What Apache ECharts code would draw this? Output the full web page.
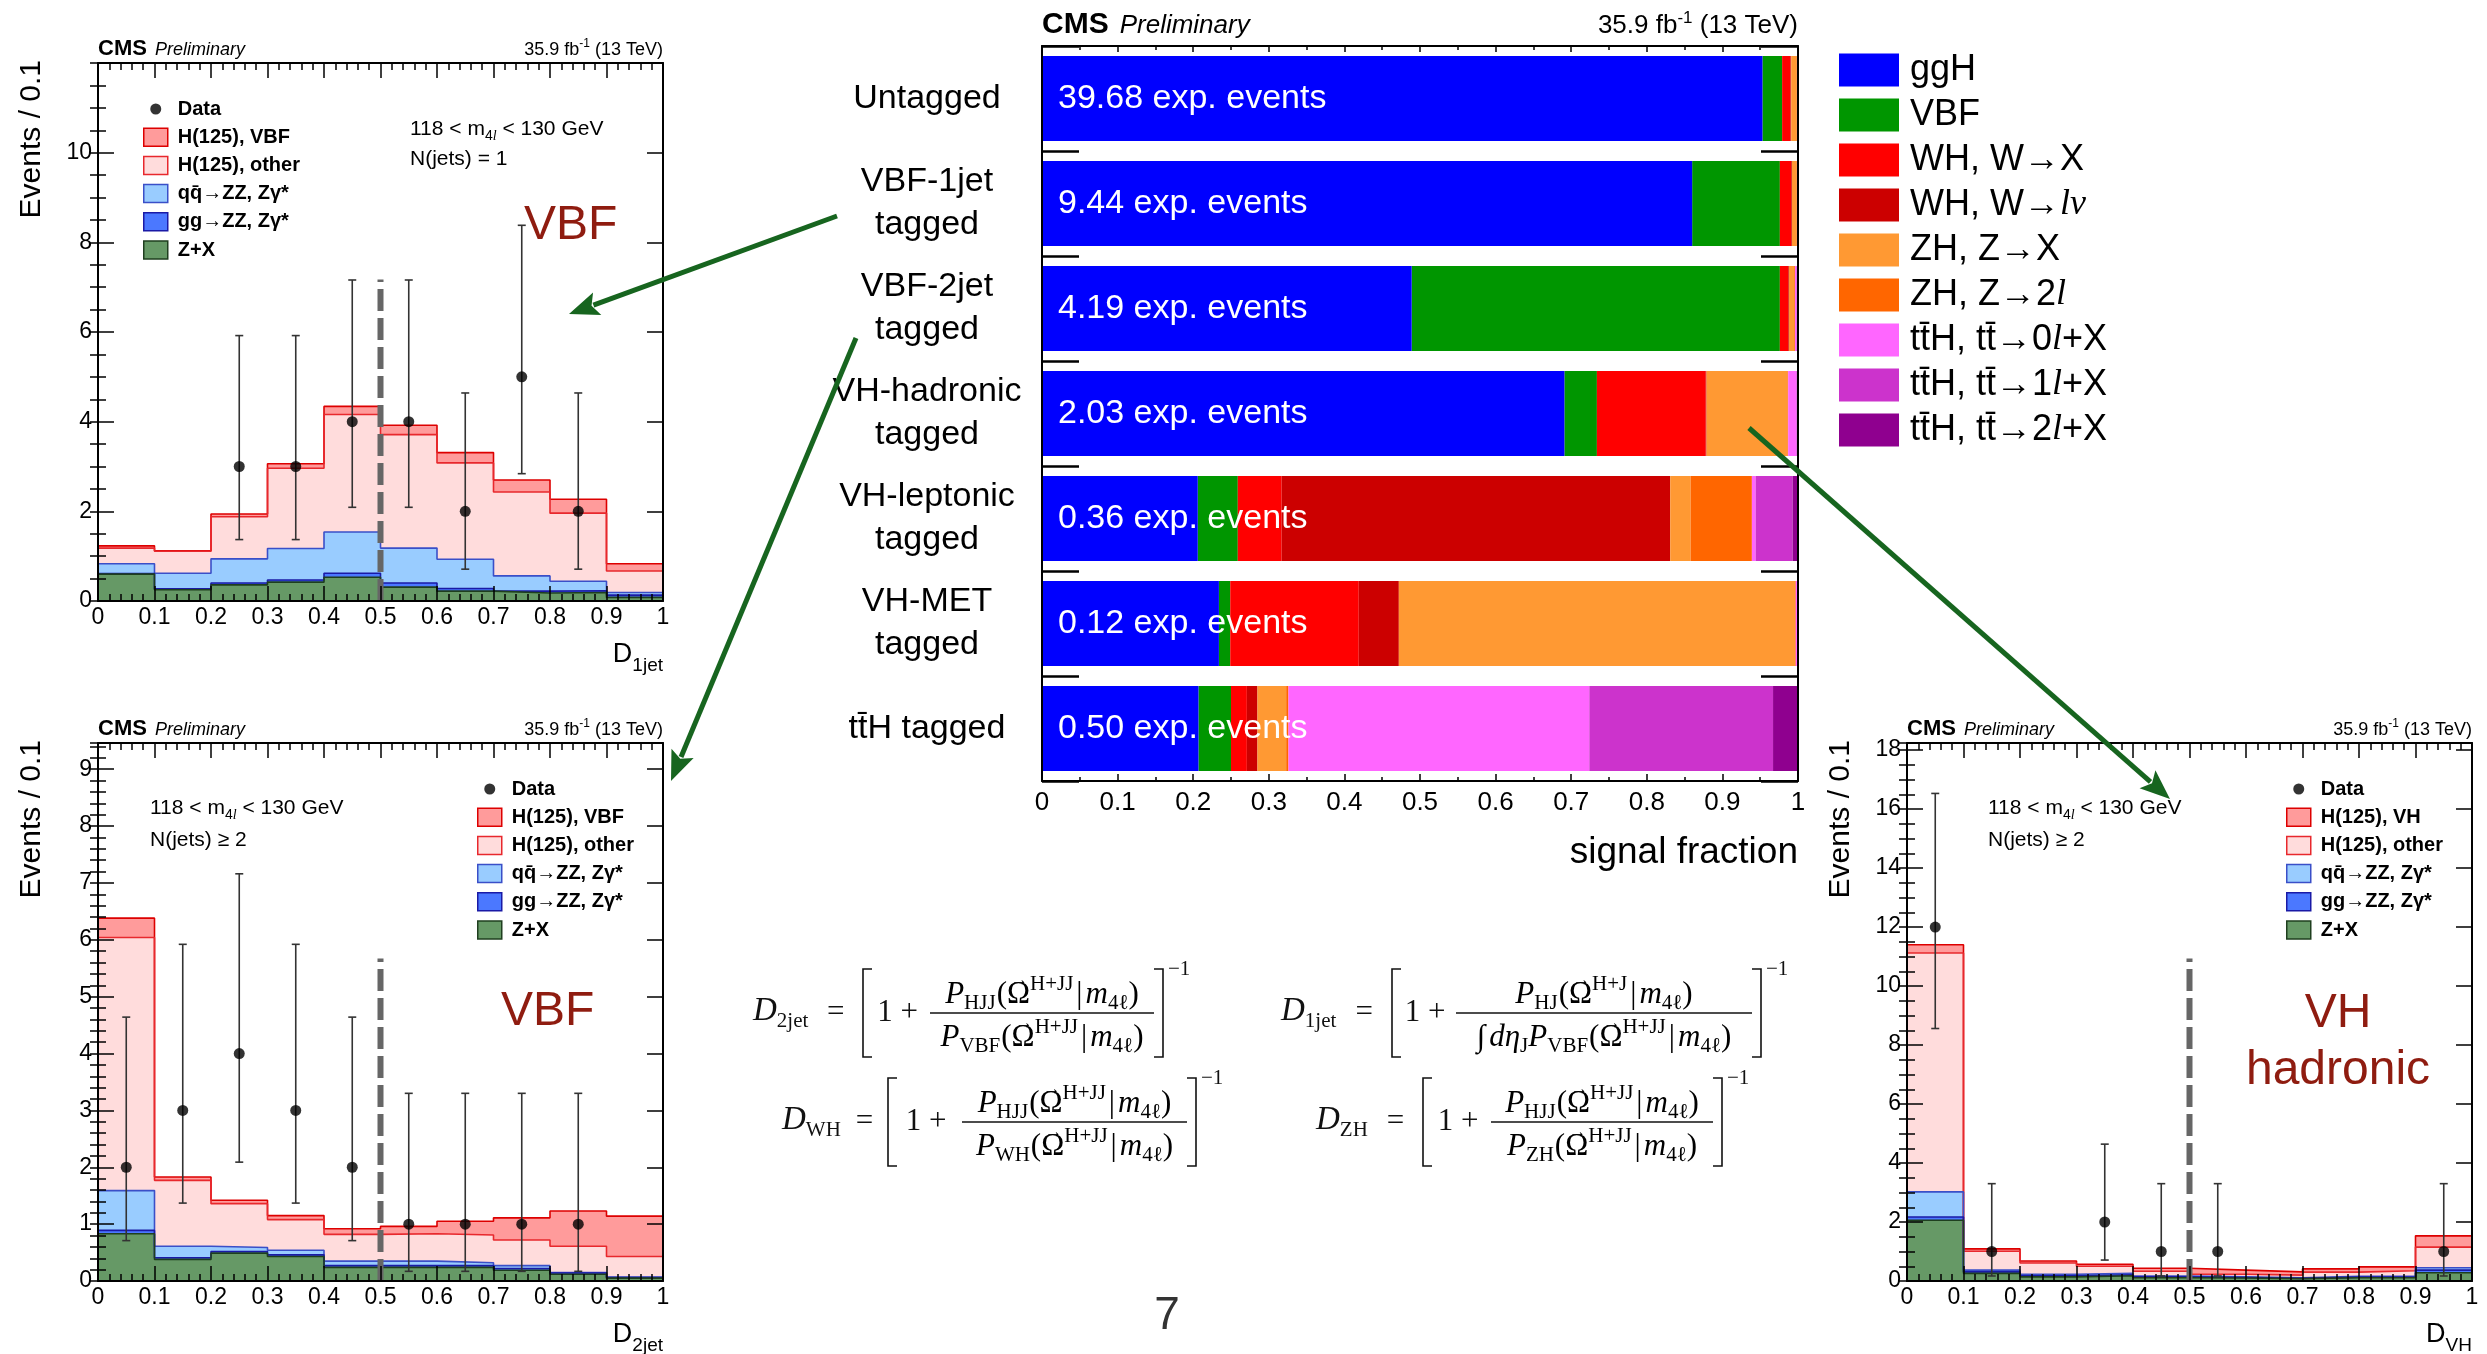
<!DOCTYPE html>
<html>
<head>
<meta charset="utf-8">
<title>H→4ℓ event categorization</title>
<script src="https://cdn.jsdelivr.net/npm/echarts@6/dist/echarts.min.js"></script>
<style>
html, body { margin: 0; padding: 0; background: #ffffff; }
#c { width: 2487px; height: 1354px; }
</style>
</head>
<body>
<div id="c"></div>
<script>
// ================= data =================
const binEdges = [0, 0.1, 0.2, 0.3, 0.4, 0.5, 0.6, 0.7, 0.8, 0.9, 1.0];
const xTickLabels = ['0', '0.1', '0.2', '0.3', '0.4', '0.5', '0.6', '0.7', '0.8', '0.9', '1'];
const discCut = 0.5;

// D_1jet, N(jets) = 1 (per-process yields per bin)
const d1jetZX    = [0.60, 0.25, 0.36, 0.42, 0.53, 0.31, 0.22, 0.18, 0.19, 0.08];
const d1jetGGZZ  = [0.01, 0.02, 0.04, 0.05, 0.09, 0.09, 0.06, 0.04, 0.04, 0.05];
const d1jetQQZZ  = [0.22, 0.35, 0.54, 0.70, 0.92, 0.78, 0.65, 0.34, 0.21, 0.06];
const d1jetOther = [0.35, 0.49, 0.94, 1.79, 2.62, 2.53, 2.15, 1.87, 1.52, 0.48];
const d1jetVBF   = [0.05, 0.01, 0.06, 0.10, 0.18, 0.21, 0.23, 0.27, 0.31, 0.16];
const d1jetDataX  = [0.25, 0.35, 0.45, 0.55, 0.65, 0.75, 0.85];
const d1jetDataN  = [3, 3, 4, 4, 2, 5, 2];
const d1jetDataLo = [1.37, 1.37, 2.09, 2.09, 0.71, 2.84, 0.71];
const d1jetDataHi = [5.92, 5.92, 7.16, 7.16, 4.64, 8.38, 4.64];
const d1jetCutTop = 7.17;

// D_2jet, N(jets) >= 2
const d2jetZX    = [0.83, 0.38, 0.49, 0.43, 0.24, 0.24, 0.24, 0.19, 0.12, 0.05];
const d2jetGGZZ  = [0.06, 0.03, 0.03, 0.03, 0.03, 0.03, 0.03, 0.03, 0.02, 0.01];
const d2jetQQZZ  = [0.70, 0.20, 0.07, 0.08, 0.08, 0.08, 0.05, 0.05, 0.01, 0.01];
const d2jetOther = [4.45, 1.16, 0.77, 0.54, 0.47, 0.48, 0.49, 0.45, 0.46, 0.36];
const d2jetVBF   = [0.34, 0.06, 0.06, 0.07, 0.10, 0.13, 0.24, 0.39, 0.62, 0.71];
const d2jetDataX  = [0.05, 0.15, 0.25, 0.35, 0.45, 0.55, 0.65, 0.75, 0.85];
const d2jetDataN  = [2, 3, 4, 3, 2, 1, 1, 1, 1];
const d2jetDataLo = [0.71, 1.37, 2.09, 1.37, 0.71, 0.17, 0.17, 0.17, 0.17];
const d2jetDataHi = [4.64, 5.92, 7.16, 5.92, 4.64, 3.30, 3.30, 3.30, 3.30];
const d2jetCutTop = 5.67;

// D_VH, N(jets) >= 2
const dvhZX    = [2.06, 0.26, 0.14, 0.18, 0.11, 0.10, 0.08, 0.11, 0.11, 0.28];
const dvhGGZZ  = [0.11, 0.05, 0.04, 0.03, 0.03, 0.02, 0.01, 0.02, 0.03, 0.09];
const dvhQQZZ  = [0.85, 0.06, 0.05, 0.05, 0.03, 0.02, 0.02, 0.03, 0.03, 0.08];
const dvhOther = [8.10, 0.64, 0.38, 0.24, 0.16, 0.09, 0.09, 0.14, 0.18, 0.70];
const dvhVH    = [0.28, 0.08, 0.07, 0.07, 0.10, 0.14, 0.11, 0.11, 0.13, 0.38];
const dvhDataX  = [0.05, 0.15, 0.35, 0.45, 0.55, 0.95];
const dvhDataN  = [12, 1, 2, 1, 1, 1];
const dvhDataLo = [8.56, 0.17, 0.71, 0.17, 0.17, 0.17];
const dvhDataHi = [16.53, 3.30, 4.64, 3.30, 3.30, 3.30];
const dvhCutTop = 10.93;

// Signal composition of the event categories
const categories = ['Untagged', 'VBF-1jet\ntagged', 'VBF-2jet\ntagged', 'VH-hadronic\ntagged',
                    'VH-leptonic\ntagged', 'VH-MET\ntagged', 'tt\u0304H tagged'];
const expEvents = ['39.68', '9.44', '4.19', '2.03', '0.36', '0.12', '0.50'];
const prodNames = ['ggH', 'VBF', 'WH, W→X', 'WH, W→lν', 'ZH, Z→X', 'ZH, Z→2l',
                   'tt\u0304H, tt\u0304→0l+X', 'tt\u0304H, tt\u0304→1l+X', 'tt\u0304H, tt\u0304→2l+X'];
const prodLabels = ['ggH', 'VBF', 'WH, W→X', 'WH, W→{i|lν}', 'ZH, Z→X', 'ZH, Z→2{i|l}',
                    'tt\u0304H, tt\u0304→0{i|l}+X', 'tt\u0304H, tt\u0304→1{i|l}+X', 'tt\u0304H, tt\u0304→2{i|l}+X'];
const fracGGH   = [0.953, 0.860, 0.489, 0.691, 0.206, 0.234, 0.207];
const fracVBF   = [0.026, 0.116, 0.487, 0.043, 0.053, 0.015, 0.043];
const fracWHX   = [0.011, 0.015, 0.011, 0.144, 0.058, 0.170, 0.021];
const fracWHLnu = [0.001, 0.001, 0.001, 0.001, 0.514, 0.053, 0.014];
const fracZHX   = [0.007, 0.006, 0.007, 0.107, 0.027, 0.524, 0.038];
const fracZH2l  = [0.001, 0.001, 0.001, 0.001, 0.081, 0.001, 0.003];
const fracTTH0l = [0.001, 0.001, 0.002, 0.011, 0.005, 0.003, 0.398];
const fracTTH1l = [0.000, 0.000, 0.001, 0.001, 0.049, 0.000, 0.243];
const fracTTH2l = [0.000, 0.000, 0.001, 0.001, 0.007, 0.000, 0.033];
const fractionTicks = ['0', '0.1', '0.2', '0.3', '0.4', '0.5', '0.6', '0.7', '0.8', '0.9', '1'];

// ================= styling =================
const FONT = '"Liberation Sans", Arial, Helvetica, sans-serif';
const SERIF = '"Liberation Serif", "Times New Roman", serif';
const INK = '#111111';
const LABEL_RED = '#8f1c10';
const ARROW_GREEN = '#17651f';
const LAYER_FILL = ['#669966', '#4b78ff', '#99ccff', '#ffdcdc', '#ff9b9b'];
const LAYER_LINE = ['#1f3f1f', '#1a1aa6', '#3a4fc8', '#e8282d', '#dd0000'];
const PROD_COLORS = ['#0000ff', '#009600', '#ff0000', '#cc0000', '#ff9933', '#ff6600', '#ff66ff', '#cc33cc', '#8f008f'];
const DOT_ICON = 'path://M0,0M24,18M6.5,9a5.5,5.5 0 1,0 11,0a5.5,5.5 0 1,0 -11,0z';

const panels = [
  { grid: {left: 98, top: 63, width: 565, height: 538}, ymax: 12, yMajor: 2, yMinor: 0.5,
    layers: [d1jetZX, d1jetGGZZ, d1jetQQZZ, d1jetOther, d1jetVBF], sigName: 'H(125), VBF',
    dataX: d1jetDataX, dataN: d1jetDataN, dataLo: d1jetDataLo, dataHi: d1jetDataHi, cutTop: d1jetCutTop,
    legendPos: {left: 143, top: 99} },
  { grid: {left: 98, top: 743, width: 565, height: 538}, ymax: 9.46, yMajor: 1, yMinor: 0.2,
    layers: [d2jetZX, d2jetGGZZ, d2jetQQZZ, d2jetOther, d2jetVBF], sigName: 'H(125), VBF',
    dataX: d2jetDataX, dataN: d2jetDataN, dataLo: d2jetDataLo, dataHi: d2jetDataHi, cutTop: d2jetCutTop,
    legendPos: {left: 477, top: 779} },
  { grid: {left: 1907, top: 743, width: 565, height: 538}, ymax: 18.24, yMajor: 2, yMinor: 0.5,
    layers: [dvhZX, dvhGGZZ, dvhQQZZ, dvhOther, dvhVH], sigName: 'H(125), VH',
    dataX: dvhDataX, dataN: dvhDataN, dataLo: dvhDataLo, dataHi: dvhDataHi, cutTop: dvhCutTop,
    legendPos: {left: 2286, top: 779} }
];
const barGrid = {left: 1042, top: 46, width: 756, height: 735};

// ================= text helpers =================
const mctx = document.createElement('canvas').getContext('2d');
function fontOf(p) {
  return (p.italic ? 'italic ' : '') + (p.bold ? 'bold ' : '') + p.size + 'px ' + (p.family || FONT);
}
function widthOf(p) { mctx.font = fontOf(p); return mctx.measureText(p.t).width; }
function runWidth(pieces) { return pieces.reduce((w, p) => w + widthOf(p) + (p.dx || 0), 0); }
function textEl(t, x, y, st) {
  return { type: 'text', x: x, y: y, z: 50, silent: true, rotation: st.rotation || 0,
    style: { text: t, fontSize: st.size, fontFamily: st.family || FONT,
      fontStyle: st.italic ? 'italic' : 'normal', fontWeight: st.bold ? 'bold' : 'normal',
      fill: st.color || '#000', align: st.align || 'left', verticalAlign: st.valign || 'middle' } };
}
// places a run of text pieces sharing one baseline
function placeRun(pieces, x, baseline, align) {
  const w = runWidth(pieces);
  let cx = align === 'right' ? x - w : (align === 'center' ? x - w / 2 : x);
  const els = [];
  pieces.forEach(p => {
    cx += (p.dx || 0);
    const pw = widthOf(p);
    const by = baseline + (p.dy || 0);
    els.push(textEl(p.t, cx, by - 0.34 * p.size, p));
    if (p.vec) {
      els.push(textEl('→', cx + pw / 2 + 1, by - 0.78 * p.size, {size: 17, family: p.family, align: 'center', color: p.color}));
    }
    cx += pw;
  });
  return els;
}

// ================= options =================
const grids = [], xAxes = [], yAxes = [], series = [], legends = [], graphics = [];

function axisLineStyle() { return {show: true, onZero: false, lineStyle: {color: '#000', width: 2}}; }

panels.forEach((p, pi) => {
  grids.push(Object.assign({containLabel: false, outerBoundsMode: 'none', show: false}, p.grid));
  const xBase = { gridIndex: pi, type: 'value', min: 0, max: 1, interval: 0.1, z: 10,
    splitLine: {show: false}, minorSplitLine: {show: false}, axisLine: axisLineStyle(),
    axisTick: {show: true, inside: true, length: 15, lineStyle: {color: '#000', width: 1.5}},
    minorTick: {show: true, splitNumber: 5, length: 7, lineStyle: {color: '#000', width: 1.5}} };
  xAxes.push(Object.assign({}, xBase, { position: 'bottom',
    axisLabel: {show: true, margin: 5, color: '#000', fontSize: 23, fontFamily: FONT,
      formatter: v => xTickLabels[Math.round(v * 10)] || ''} }));
  xAxes.push(Object.assign({}, xBase, { position: 'top', axisLabel: {show: false} }));

  const yFmt = v => (v < p.ymax - 1e-6 && Math.abs(v / p.yMajor - Math.round(v / p.yMajor)) < 1e-6) ? String(Math.round(v)) : '';
  ['left', 'right'].forEach(pos => {
    yAxes.push({ gridIndex: pi, type: 'value', position: pos, min: 0, max: p.ymax, interval: p.yMajor, z: 10,
      splitLine: {show: false}, axisLine: axisLineStyle(),
      axisTick: {show: true, inside: true, length: 16, lineStyle: {color: '#000', width: 1.5}},
      axisLabel: pos === 'left' ? {show: true, margin: 6, color: '#000', fontSize: 23, fontFamily: FONT, formatter: yFmt, showMaxLabel: false} : {show: false} });
    yAxes.push({ gridIndex: pi, type: 'value', position: pos, min: 0, max: p.ymax, interval: p.yMinor, z: 10,
      splitLine: {show: false}, axisLine: {show: false},
      axisTick: {show: true, inside: true, length: 8, lineStyle: {color: '#000', width: 1.5}},
      axisLabel: {show: false} });
  });

  const xi = 2 * pi, yi = 4 * pi;
  const names = ['Z+X', 'gg→ZZ, Zγ*', 'qq\u0304→ZZ, Zγ*', 'H(125), other', p.sigName];
  // cumulative stack heights, drawn from the full stack downwards
  const cum = [];
  let run = p.layers[0].map(() => 0);
  p.layers.forEach(vals => { run = run.map((r, i) => r + vals[i]); cum.push(run.slice()); });
  for (let k = cum.length - 1; k >= 0; k--) {
    const tops = cum[k];
    series.push({ type: 'line', name: names[k], xAxisIndex: xi, yAxisIndex: yi, step: 'end',
      data: binEdges.map((e, i) => [e, tops[Math.min(i, tops.length - 1)]]),
      symbol: 'none', showSymbol: false, silent: true, z: 2, emphasis: {disabled: true},
      lineStyle: {color: LAYER_LINE[k], width: 1.6}, areaStyle: {color: LAYER_FILL[k], opacity: 1, origin: 'start'} });
  }
  series.push({ type: 'line', name: 'cut', xAxisIndex: xi, yAxisIndex: yi,
    data: [[discCut, 0], [discCut, p.cutTop]], symbol: 'none', silent: true, z: 3,
    lineStyle: {color: '#666666', width: 6, type: [22, 7], cap: 'butt'} });
  series.push({ type: 'custom', name: 'Data errors', xAxisIndex: xi, yAxisIndex: yi, silent: true, z: 4,
    data: p.dataX.map((x, i) => [x, p.dataLo[i], p.dataHi[i]]), encode: {x: 0, y: [1, 2]},
    renderItem: (params, api) => {
      const a = api.coord([api.value(0), api.value(1)]);
      const b = api.coord([api.value(0), api.value(2)]);
      const st = {stroke: '#333333', lineWidth: 1.6};
      return { type: 'group', children: [
        {type: 'line', shape: {x1: a[0], y1: a[1], x2: b[0], y2: b[1]}, style: st},
        {type: 'line', shape: {x1: a[0] - 4, y1: a[1], x2: a[0] + 4, y2: a[1]}, style: st},
        {type: 'line', shape: {x1: b[0] - 4, y1: b[1], x2: b[0] + 4, y2: b[1]}, style: st} ] };
    } });
  series.push({ type: 'scatter', name: 'Data', xAxisIndex: xi, yAxisIndex: yi, silent: true, z: 5,
    data: p.dataX.map((x, i) => [x, p.dataN[i]]), symbolSize: 11, itemStyle: {color: '#000'} });

  legends.push({ orient: 'vertical', left: p.legendPos.left, top: p.legendPos.top, padding: 0,
    itemWidth: 24, itemHeight: 18, itemGap: 8.2, selectedMode: false,
    textStyle: {fontFamily: FONT, fontWeight: 'bold', fontSize: 20, lineHeight: 18, color: '#000', padding: [0, 0, 0, 5]},
    data: [
      {name: 'Data', icon: DOT_ICON, itemStyle: {color: '#000', borderWidth: 0}},
      {name: p.sigName, icon: 'rect', itemStyle: {color: LAYER_FILL[4], borderColor: LAYER_LINE[4], borderWidth: 1.5}},
      {name: 'H(125), other', icon: 'rect', itemStyle: {color: LAYER_FILL[3], borderColor: LAYER_LINE[3], borderWidth: 1.5}},
      {name: 'qq\u0304→ZZ, Zγ*', icon: 'rect', itemStyle: {color: LAYER_FILL[2], borderColor: LAYER_LINE[2], borderWidth: 1.5}},
      {name: 'gg→ZZ, Zγ*', icon: 'rect', itemStyle: {color: LAYER_FILL[1], borderColor: LAYER_LINE[1], borderWidth: 1.5}},
      {name: 'Z+X', icon: 'rect', itemStyle: {color: LAYER_FILL[0], borderColor: LAYER_LINE[0], borderWidth: 1.5}}
    ] });

  // panel headers and axis titles
  const g = p.grid, right = g.left + g.width;
  graphics.push(...placeRun([{t: 'CMS', size: 22, bold: true}, {t: 'Preliminary', size: 18, italic: true, dx: 8}], g.left, g.top - 7, 'left'));
  graphics.push(...placeRun([{t: '35.9 fb', size: 18}, {t: '-1', size: 12, dy: -8}, {t: ' (13 TeV)', size: 18}], right, g.top - 7, 'right'));
  graphics.push(textEl('Events / 0.1', g.left - 66, g.top - 3, {size: 30, align: 'right', rotation: Math.PI / 2}));
});

// D-axis titles
const dSubs = ['1jet', '2jet', 'VH'];
panels.forEach((p, pi) => {
  const g = p.grid;
  graphics.push(...placeRun([{t: 'D', size: 27}, {t: dSubs[pi], size: 19, dy: 8}], g.left + g.width, g.top + g.height + 63, 'right'));
});

// selection text inside the panels
function massWindow(x, base) {
  return placeRun([{t: '118 < m', size: 21}, {t: '4', size: 14, dy: 5}, {t: 'l', size: 14, dy: 5, italic: true, family: SERIF},
                   {t: ' < 130 GeV', size: 21}], x, base, 'left');
}
graphics.push(...massWindow(410, 136), ...placeRun([{t: 'N(jets) = 1', size: 21}], 410, 166, 'left'));
graphics.push(...massWindow(150, 815), ...placeRun([{t: 'N(jets) ≥ 2', size: 21}], 150, 847, 'left'));
graphics.push(...massWindow(1988, 815), ...placeRun([{t: 'N(jets) ≥ 2', size: 21}], 1988, 847, 'left'));
graphics.push(textEl('VBF', 524, 226, {size: 48, color: LABEL_RED}));
graphics.push(textEl('VBF', 501, 1012, {size: 48, color: LABEL_RED}));
graphics.push(textEl('VH', 2338, 1014, {size: 48, color: LABEL_RED, align: 'center'}));
graphics.push(textEl('hadronic', 2338, 1071, {size: 48, color: LABEL_RED, align: 'center'}));

// ----- signal-fraction bar chart -----
grids.push(Object.assign({containLabel: false, outerBoundsMode: 'none', show: false}, barGrid));
const fracBase = { gridIndex: 3, type: 'value', min: 0, max: 1, interval: 0.1, z: 10,
  splitLine: {show: false}, minorSplitLine: {show: false}, axisLine: axisLineStyle() };
xAxes.push(Object.assign({}, fracBase, { position: 'bottom',
  axisTick: {show: true, inside: true, length: 7, lineStyle: {color: '#000', width: 1.5}},
  minorTick: {show: true, splitNumber: 2, length: 4, lineStyle: {color: '#000', width: 1.5}},
  axisLabel: {show: true, margin: 9, color: '#000', fontSize: 26, fontFamily: FONT,
    formatter: v => fractionTicks[Math.round(v * 10)] || ''} }));
xAxes.push(Object.assign({}, fracBase, { position: 'top',
  axisTick: {show: true, inside: true, length: 6, lineStyle: {color: '#000', width: 1.5}},
  minorTick: {show: true, splitNumber: 2, length: 4, lineStyle: {color: '#000', width: 1.5}},
  axisLabel: {show: false} }));
['left', 'right'].forEach(pos => {
  yAxes.push({ gridIndex: 3, type: 'category', data: categories, inverse: true, position: pos, z: 10,
    axisLine: axisLineStyle(), splitLine: {show: false},
    axisTick: {show: true, inside: true, length: 37, interval: 0, alignWithLabel: false, lineStyle: {color: '#000', width: 2.5}},
    axisLabel: pos === 'left' ? {show: true, interval: 0, margin: 115, align: 'center', color: '#000',
      fontSize: 34, lineHeight: 43, fontFamily: FONT} : {show: false} });
});
const fractions = [fracGGH, fracVBF, fracWHX, fracWHLnu, fracZHX, fracZH2l, fracTTH0l, fracTTH1l, fracTTH2l];
prodNames.forEach((name, k) => {
  series.push({ type: 'bar', name: name, xAxisIndex: 6, yAxisIndex: 12, stack: 'signal', barWidth: '81%',
    data: fractions[k], silent: true, z: k === 0 ? 3 : 2, emphasis: {disabled: true},
    itemStyle: {color: PROD_COLORS[k], borderWidth: 0},
    label: k === 0 ? { show: true, position: 'insideLeft', distance: 16, offset: [0, 0], color: '#fff',
      fontSize: 34, fontFamily: FONT, formatter: prm => expEvents[prm.dataIndex] + ' exp. events' } : {show: false} });
});
legends.push({ orient: 'vertical', left: 1839, top: 52, padding: 0, itemWidth: 60, itemHeight: 33, itemGap: 9,
  selectedMode: false, icon: 'rect', data: prodNames,
  formatter: name => prodLabels[prodNames.indexOf(name)],
  textStyle: {fontFamily: FONT, fontSize: 36, lineHeight: 33, color: '#000', padding: [0, 0, 0, 6],
    rich: {i: {fontFamily: SERIF, fontStyle: 'italic', fontSize: 36, lineHeight: 33, color: '#000'}}} });
graphics.push(...placeRun([{t: 'CMS', size: 30, bold: true}, {t: 'Preliminary', size: 26, italic: true, dx: 11}], barGrid.left, 35, 'left'));
graphics.push(...placeRun([{t: '35.9 fb', size: 26}, {t: '-1', size: 17, dy: -11}, {t: ' (13 TeV)', size: 26}], barGrid.left + barGrid.width, 35, 'right'));
graphics.push(...placeRun([{t: 'signal fraction', size: 37}], barGrid.left + barGrid.width, 865, 'right'));

// ----- arrows linking categories to discriminants -----
function arrow(x1, y1, x2, y2) {
  const ang = Math.atan2(y2 - y1, x2 - x1), L = 30, W = 12;
  const bx = x2 - L * Math.cos(ang), by = y2 - L * Math.sin(ang);
  const nx = -Math.sin(ang), ny = Math.cos(ang);
  return [
    {type: 'line', z: 60, silent: true, shape: {x1: x1, y1: y1, x2: bx + 4 * Math.cos(ang), y2: by + 4 * Math.sin(ang)}, style: {stroke: ARROW_GREEN, lineWidth: 5}},
    {type: 'polygon', z: 60, silent: true, shape: {points: [[x2, y2], [bx + nx * W, by + ny * W], [bx + 6 * Math.cos(ang), by + 6 * Math.sin(ang)], [bx - nx * W, by - ny * W]]}, style: {fill: ARROW_GREEN}}
  ];
}
graphics.push(...arrow(837, 216, 569, 314), ...arrow(856, 338, 671, 781), ...arrow(1749, 428, 2170, 799));

// ----- discriminant definitions -----
const MATH = 31, MSUB = 21;
function prob(sub, sup) {
  return [
    {t: 'P', size: MATH, italic: true, family: SERIF},
    {t: sub, size: MSUB, dy: 6, family: SERIF},
    {t: '(', size: MATH, family: SERIF, dx: 1},
    {t: 'Ω', size: MATH, family: SERIF, vec: true},
    {t: sup, size: MSUB, dy: -13, family: SERIF},
    {t: '|', size: MATH, family: SERIF, dx: 3},
    {t: 'm', size: MATH, italic: true, family: SERIF, dx: 3},
    {t: '4ℓ', size: MSUB, dy: 6, family: SERIF},
    {t: ')', size: MATH, family: SERIF}
  ];
}
function bracket(x, y, dir) {
  return {type: 'polyline', z: 50, silent: true,
    shape: {points: [[x + dir * 9, y - 44], [x, y - 44], [x, y + 44], [x + dir * 9, y + 44]]},
    style: {stroke: INK, lineWidth: 1.6, fill: 'none'}};
}
function formula(f) {
  const els = [], y = f.y, base = y + 10;
  const lhs = [{t: 'D', size: 33, italic: true, family: SERIF, color: INK}, {t: f.sub, size: 21, dy: 6, family: SERIF, color: INK}];
  els.push(...placeRun(lhs, f.lhsX, base, 'left'));
  const lhsEnd = f.lhsX + runWidth(lhs);
  els.push(...placeRun([{t: '=', size: MATH, family: SERIF, color: INK}], (lhsEnd + f.bL) / 2, base, 'center'));
  els.push(bracket(f.bL, y, 1));
  els.push(...placeRun([{t: '1 +', size: MATH, family: SERIF, color: INK}], (f.bL + f.fL) / 2 + 1, base, 'center'));
  els.push({type: 'line', z: 50, silent: true, shape: {x1: f.fL, y1: y, x2: f.fR, y2: y}, style: {stroke: INK, lineWidth: 1.4}});
  const cx = (f.fL + f.fR) / 2;
  els.push(...placeRun(f.num, cx, y - 8, 'center'));
  els.push(...placeRun(f.den, cx, y + 35, 'center'));
  const bR = f.fR + 9;
  els.push(bracket(bR, y, -1));
  els.push(...placeRun([{t: '−1', size: MSUB, family: SERIF, color: INK}], bR + 5, y - 36, 'left'));
  return els;
}
graphics.push(...formula({sub: '2jet', lhsX: 753, bL: 863, fL: 930, fR: 1154, y: 1013,
  num: prob('HJJ', 'H+JJ'), den: prob('VBF', 'H+JJ')}));
graphics.push(...formula({sub: '1jet', lhsX: 1281, bL: 1392, fL: 1456, fR: 1752, y: 1013,
  num: prob('HJ', 'H+J'),
  den: [{t: '∫', size: MATH, family: SERIF}, {t: 'dη', size: MATH, italic: true, family: SERIF, dx: 4},
        {t: 'J', size: MSUB, dy: 6, family: SERIF}].concat(prob('VBF', 'H+JJ'))}));
graphics.push(...formula({sub: 'WH', lhsX: 782, bL: 888, fL: 962, fR: 1187, y: 1122,
  num: prob('HJJ', 'H+JJ'), den: prob('WH', 'H+JJ')}));
graphics.push(...formula({sub: 'ZH', lhsX: 1316, bL: 1423, fL: 1491, fR: 1713, y: 1122,
  num: prob('HJJ', 'H+JJ'), den: prob('ZH', 'H+JJ')}));

// slide number
graphics.push(textEl('7', 1167, 1316, {size: 46, color: '#333', align: 'center'}));

const chart = echarts.init(document.getElementById('c'), null, {renderer: 'canvas', width: 2487, height: 1354});
chart.setOption({
  animation: false,
  backgroundColor: '#ffffff',
  textStyle: {fontFamily: FONT},
  tooltip: {show: false},
  grid: grids,
  xAxis: xAxes,
  yAxis: yAxes,
  legend: legends,
  series: series,
  graphic: {elements: graphics}
});
</script>
</body>
</html>
